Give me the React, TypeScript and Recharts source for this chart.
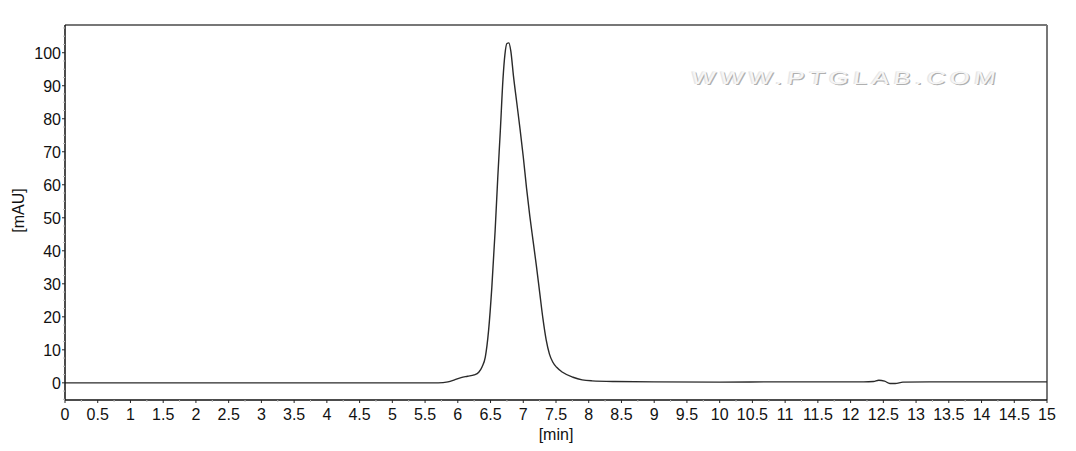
import React from "react";
import {
  LineChart,
  Line,
  XAxis,
  YAxis,
  ReferenceLine,
} from "recharts";

// retention time [min] and absorbance [mAU]
const times = [
  0, 5.0, 5.7, 5.85, 5.95, 6.05, 6.15, 6.25, 6.32, 6.37, 6.42, 6.47, 6.52, 6.57,
  6.61, 6.65, 6.69, 6.72, 6.75, 6.78, 6.81, 6.85, 6.9, 6.95, 7.0, 7.05, 7.1,
  7.15, 7.2, 7.25, 7.3, 7.35, 7.4, 7.45, 7.51, 7.6, 7.76, 7.9, 8.05, 8.4, 9.0,
  10.0, 10.8, 11.5, 12.2, 12.35, 12.43, 12.52, 12.6, 12.68, 12.8, 13.2, 15,
];
const signal = [
  0, 0, 0, 0.3, 0.9, 1.6, 2.0, 2.4, 3.2, 4.8, 7.8, 15.8, 29, 46, 62, 76.5, 92,
  99.5, 102.8, 103.0, 100.5, 93, 85, 77, 68.5, 59, 50.5, 43, 35.5, 27.5, 19.5,
  13, 8.7, 6.3, 4.7, 3.2, 1.7, 0.9, 0.6, 0.4, 0.3, 0.2, 0.3, 0.3, 0.3, 0.4, 0.8,
  0.5, -0.2, -0.2, 0.2, 0.3, 0.3,
];

const xTicks = [
  0, 0.5, 1, 1.5, 2, 2.5, 3, 3.5, 4, 4.5, 5, 5.5, 6, 6.5, 7, 7.5, 8, 8.5, 9,
  9.5, 10, 10.5, 11, 11.5, 12, 12.5, 13, 13.5, 14, 14.5, 15,
];
const yTicks = [0, 10, 20, 30, 40, 50, 60, 70, 80, 90, 100];

const X_DOMAIN = [0, 15];
const Y_DOMAIN = [-5.2, 108.4];

const xMinor = xTicks.slice(0, -1).map((v) => v + 0.25);
const yMinor = [-5, -2.5]
  .concat(yTicks.flatMap((v) => [v + 2.5, v + 5, v + 7.5]))
  .filter((v) => v < Y_DOMAIN[1]);

const data = times.map((t, i) => ({ t, v: signal[i] }));

const FONT = "'Liberation Sans', Arial, sans-serif";

const XTick = (props: any) => {
  const { x, y, payload } = props;
  const major = xTicks.includes(payload.value);
  if (!major)
    return <line x1={x} x2={x} y1={y} y2={y + 2} stroke="#bbb" strokeWidth={1} />;
  return (
    <g>
      <line x1={x} x2={x} y1={y} y2={y + 3} stroke="#222" strokeWidth={1} />
      <text x={x} y={y + 20} textAnchor="middle" fontSize={16} fontFamily={FONT} fill="#111">
        {payload.value}
      </text>
    </g>
  );
};

const YTick = (props: any) => {
  const { x, y, payload } = props;
  const major = yTicks.includes(payload.value);
  if (!major)
    return <line x1={x - 2} x2={x} y1={y} y2={y} stroke="#bbb" strokeWidth={1} />;
  return (
    <g>
      <line x1={x - 3} x2={x} y1={y} y2={y} stroke="#222" strokeWidth={1} />
      <text x={x - 4} y={y + 6} textAnchor="end" fontSize={16} fontFamily={FONT} fill="#111">
        {payload.value}
      </text>
    </g>
  );
};

export default function App() {
  return (
    <div style={{ position: "absolute", left: 0, top: 0, width: 1076, height: 451, background: "#fff" }}>
      <LineChart
        width={1076}
        height={451}
        data={data}
        margin={{ top: 25, right: 29, bottom: 0, left: 0 }}
      >
        <XAxis
          dataKey="t"
          type="number"
          domain={X_DOMAIN}
          ticks={[...xTicks, ...xMinor].sort((a, b) => a - b)}
          interval={0}
          allowDataOverflow
          height={51}
          tickSize={0}
          tickMargin={0}
          tick={<XTick />}
          axisLine={{ stroke: "#111", strokeWidth: 1.5 }}
          label={({ viewBox }: any) => (
            <text
              x={viewBox.x + viewBox.width / 2}
              y={viewBox.y + 40}
              textAnchor="middle"
              fontSize={16}
              fontFamily={FONT}
              fill="#111"
            >
              [min]
            </text>
          )}
        />
        <YAxis
          type="number"
          domain={Y_DOMAIN}
          ticks={[...yTicks, ...yMinor].sort((a, b) => a - b)}
          interval={0}
          allowDataOverflow
          width={65}
          tickSize={0}
          tickMargin={0}
          tick={<YTick />}
          axisLine={{ stroke: "#111", strokeWidth: 1.5 }}
          label={({ viewBox }: any) => {
            const cx = viewBox.x + 18;
            const cy = viewBox.y + viewBox.height / 2 - 2;
            return (
              <text
                x={cx}
                y={cy}
                transform={`rotate(-90 ${cx} ${cy})`}
                textAnchor="middle"
                dominantBaseline="central"
                fontSize={16}
                fontFamily={FONT}
                fill="#111"
              >
                [mAU]
              </text>
            );
          }}
        />
        <ReferenceLine y={Y_DOMAIN[1]} stroke="#777" strokeWidth={2} ifOverflow="visible" />
        <ReferenceLine x={X_DOMAIN[1]} stroke="#777" strokeWidth={2} ifOverflow="visible" />
        <Line
          type="monotone"
          dataKey="v"
          stroke="#2a2a2a"
          strokeWidth={1.4}
          dot={false}
          activeDot={false}
          isAnimationActive={false}
        />
      </LineChart>
      <div
        style={{
          position: "absolute",
          left: 693,
          top: 68,
          fontFamily: FONT,
          fontSize: 18,
          letterSpacing: 3.4,
          color: "#f6f6f6",
          textShadow: "1px 1px 0 #b0b0b0, -1px 0 0 #e6e6e6",
          transform: "scaleX(1.4) skewX(-6deg)",
          transformOrigin: "left top",
          whiteSpace: "nowrap",
        }}
      >
        WWW.PTGLAB.COM
      </div>
    </div>
  );
}
